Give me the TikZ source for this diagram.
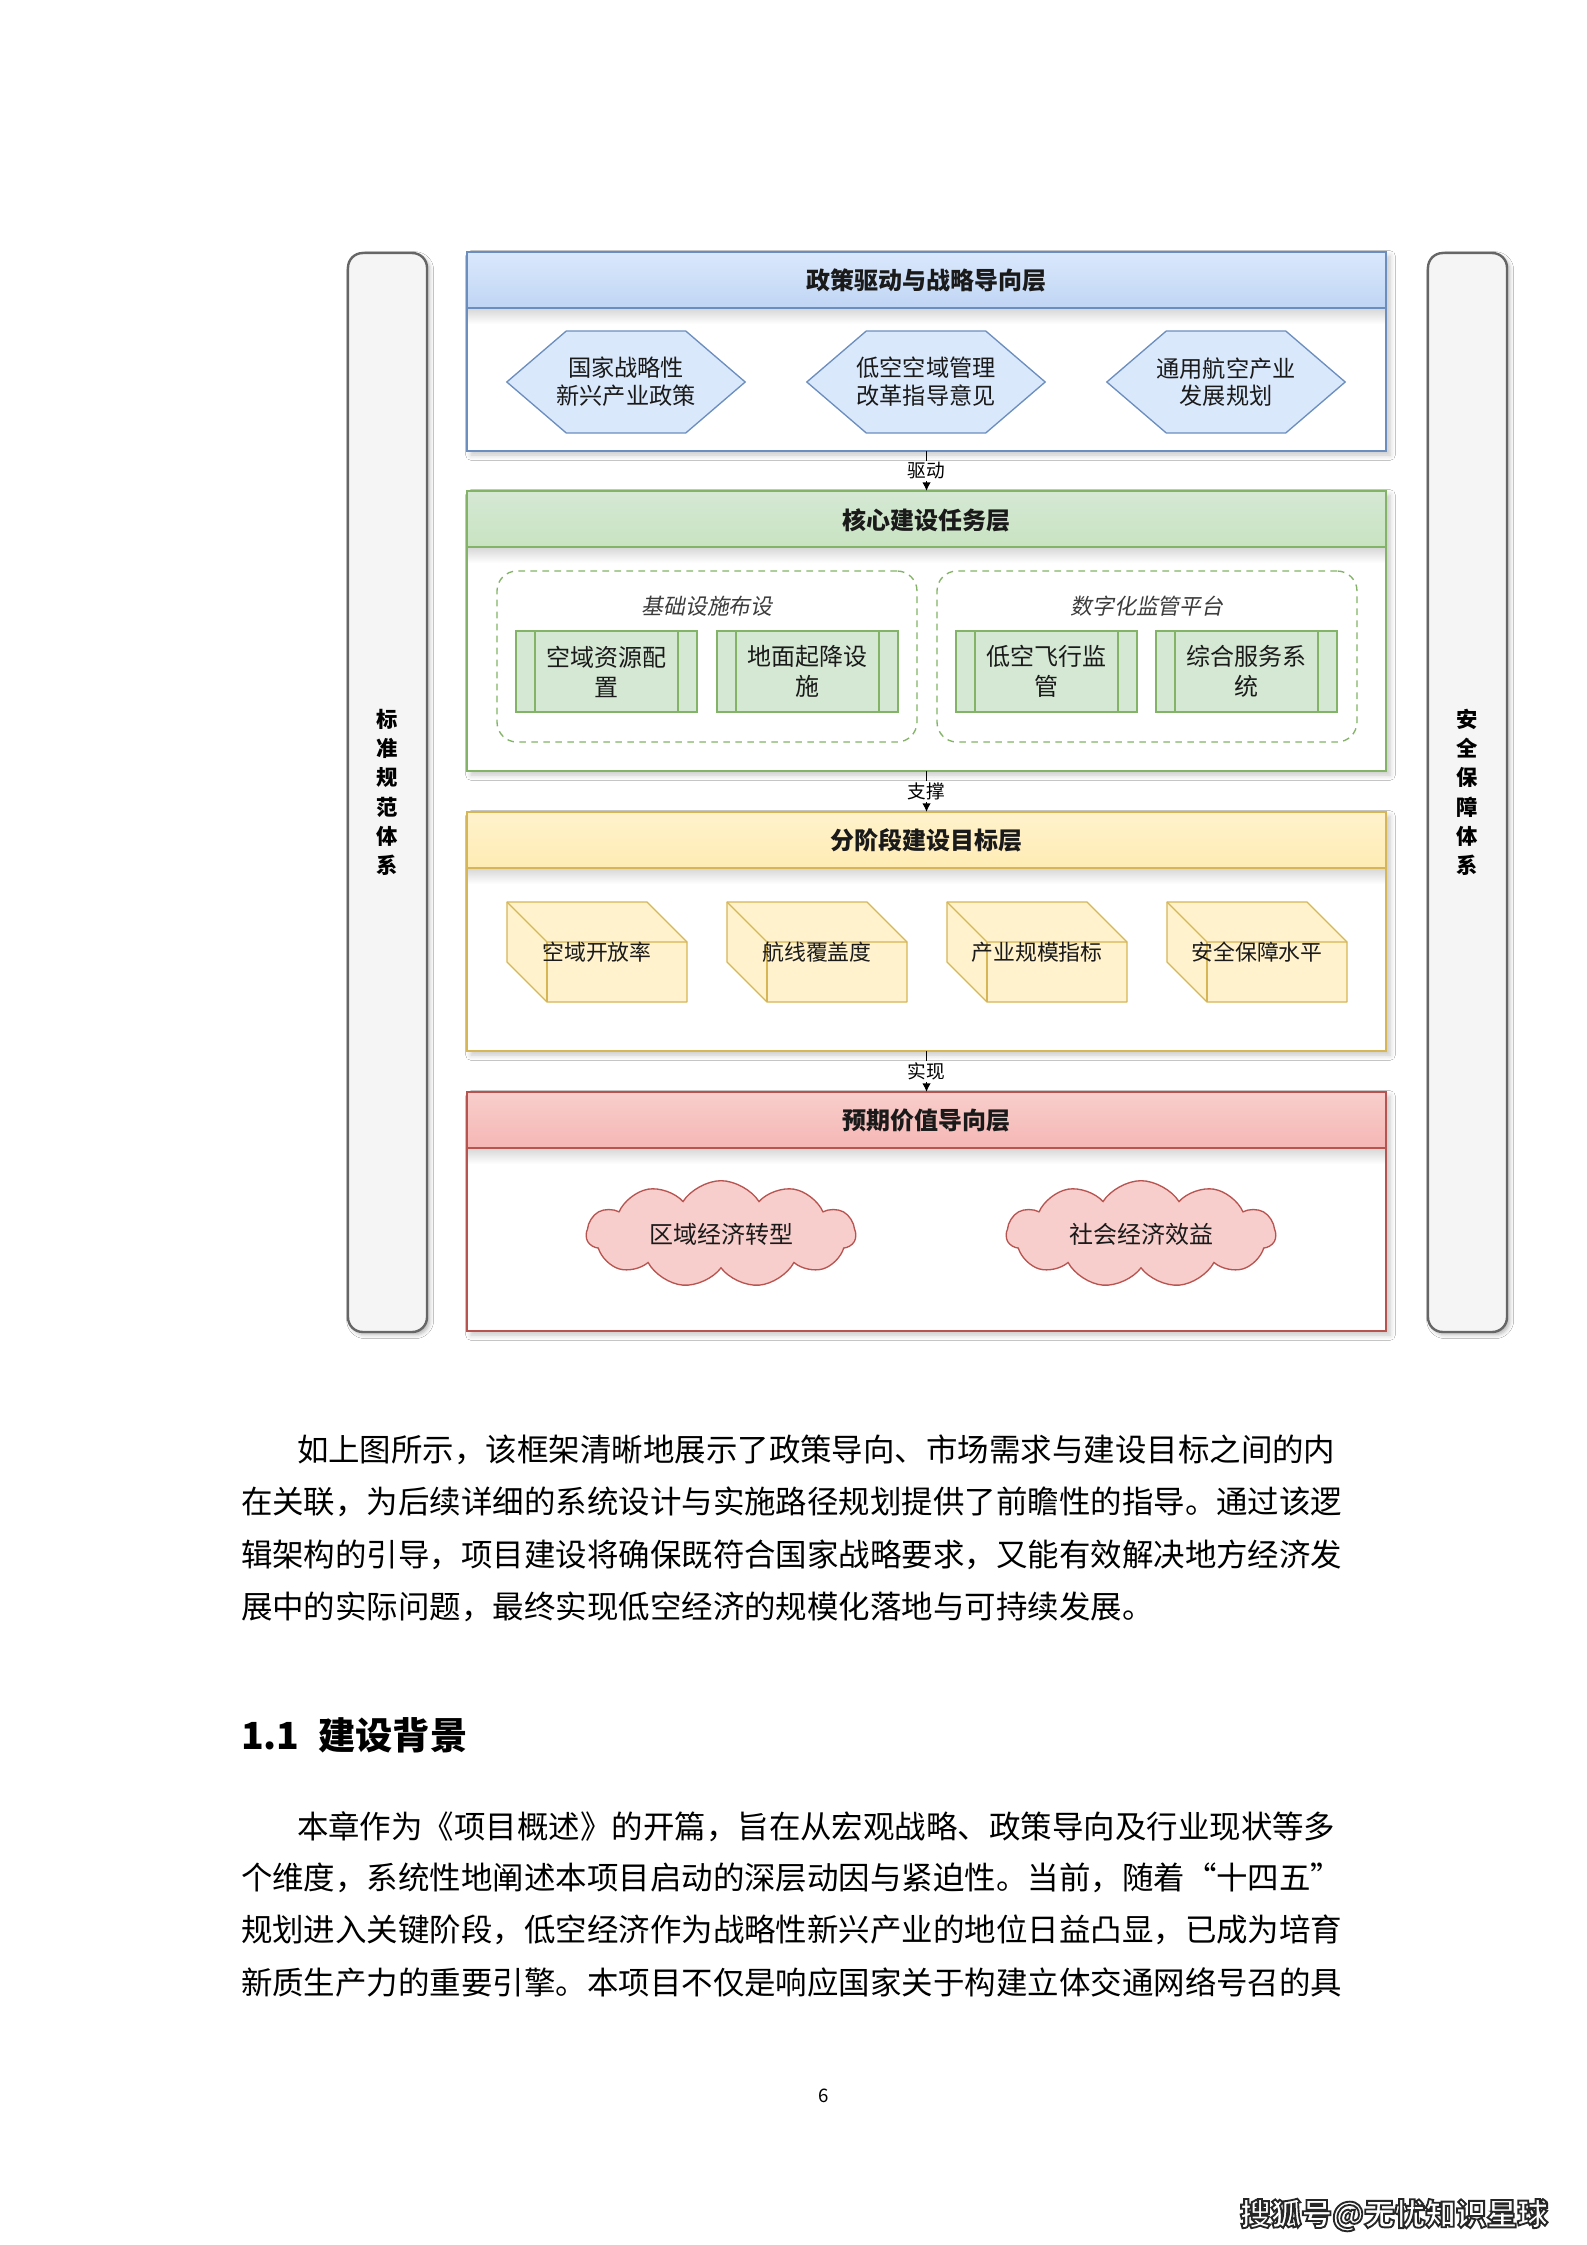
\documentclass[tikz,border=0pt]{standalone}
\usepackage{fontspec}
\setmainfont{Noto Sans CJK SC}
\newfontfamily\cjkit{Noto Sans CJK SC}[FakeSlant=0.2]
\usetikzlibrary{shapes.symbols,shadows.blur,fit,arrows.meta,calc}
\definecolor{blueA}{HTML}{DAE8FC}\definecolor{blueB}{HTML}{7EA6E0}\definecolor{blueS}{HTML}{6C8EBF}
\definecolor{greenA}{HTML}{D5E8D4}\definecolor{greenB}{HTML}{97D077}\definecolor{greenS}{HTML}{82B366}
\definecolor{yellowA}{HTML}{FFF2CC}\definecolor{yellowB}{HTML}{FFD966}\definecolor{yellowS}{HTML}{D6B656}
\definecolor{redA}{HTML}{F8CECC}\definecolor{redB}{HTML}{EA6B66}\definecolor{redS}{HTML}{B85450}
\definecolor{barF}{HTML}{F5F5F5}\definecolor{barS}{HTML}{666666}\definecolor{txt}{HTML}{1A1A1A}
\pgfdeclarelayer{back}\pgfdeclarelayer{mid}\pgfsetlayers{back,mid,main}
\begin{document}
\begin{tikzpicture}[x=0.375pt,y=-0.375pt,
  every node/.style={inner sep=0pt,outer sep=0pt},
  sidebar/.style={draw=barS,line width=0.9pt,fill=barF,rounded corners=5.5pt,
    minimum width=29.625pt,minimum height=404.6pt,
    blur shadow={shadow xshift=1pt,shadow yshift=-1pt,shadow opacity=30,shadow blur steps=4,shadow blur radius=1.5pt},
    align=center,font=\bfseries\fontsize{8}{11}\selectfont,text=black},
  layerbox/.style={draw=#1S,line width=0.6pt,fill=white,
    blur shadow={shadow xshift=1.5pt,shadow yshift=-1.5pt,shadow opacity=22,shadow blur steps=6,shadow blur radius=2pt},
    path picture={
      \shade[top color=#1A,bottom color=#1B] (path picture bounding box.north west) rectangle ([yshift=-21pt]path picture bounding box.north east);
      \shade[top color=black!16,bottom color=white] ([yshift=-21pt]path picture bounding box.north west) rectangle ([yshift=-27pt]path picture bounding box.north east);
      \draw[#1S,line width=0.6pt] ([yshift=-21pt]path picture bounding box.north west) -- ([yshift=-21pt]path picture bounding box.north east);}},
  ltitle/.style={font=\bfseries\fontsize{9}{11}\selectfont,text=txt},
  hexa/.style={minimum width=89.4pt,minimum height=38.25pt,align=center,font=\fontsize{8.7}{10.4}\selectfont,text=txt},
  hexline/.style={draw=blueS,fill=blueA,line width=0.5pt},
  grp/.style={draw=greenS,dash pattern=on 2.5pt off 2pt,rounded corners=7.5pt,line width=0.5pt},
  grplabel/.style={font=\cjkit\fontsize{8.2}{10}\selectfont,text=txt!85},
  procbox/.style={draw=greenS,fill=greenA,line width=0.6pt,align=center,font=\fontsize{9}{11.25}\selectfont,text=txt,
    minimum width=67.875pt,minimum height=30.375pt,
    path picture={
      \draw[greenS,line width=0.6pt] ([xshift=7.1pt]path picture bounding box.north west) -- ([xshift=7.1pt]path picture bounding box.south west);
      \draw[greenS,line width=0.6pt] ([xshift=-7.1pt]path picture bounding box.north east) -- ([xshift=-7.1pt]path picture bounding box.south east);}},
  cubetext/.style={font=\fontsize{8.2}{10}\selectfont,text=txt,minimum width=67.5pt,minimum height=37.5pt},
  cubeline/.style={draw=yellowS,fill=yellowA,line width=0.5pt,line join=round},
  cubeedge/.style={draw=yellowS,line width=0.5pt},
  cloudbox/.style={cloud,cloud puffs=11,cloud puff arc=115,aspect=2.6,draw=redS,fill=redA,line width=0.5pt,
    minimum width=101pt,minimum height=39.4pt,font=\fontsize{9}{11}\selectfont,text=txt},
  conn/.style={draw=black,line width=0.6pt,-{Latex[length=3.2pt,width=3.2pt]}},
  clabel/.style={fill=white,inner sep=0.6pt,font=\fontsize{7}{8}\selectfont,text=black},
  body/.style={anchor=base west,font=\fontsize{11.8}{14}\selectfont,text=black}
]
\begin{pgfonlayer}{back}
\path[use as bounding box,fill=white] (0,0) rectangle (1587,2245);
\node[sidebar] (SL) at (387.5,792.5) {标\\准\\规\\范\\体\\系};
\node[sidebar] (SR) at (1467.5,792.5) {安\\全\\保\\障\\体\\系};
\node[layerbox=blue,fit={(467,252) (1386,451)}] (L1) {};
\node[layerbox=green,fit={(467,491) (1386,771)}] (L2) {};
\node[layerbox=yellow,fit={(467,812) (1386,1051)}] (L3) {};
\node[layerbox=red,fit={(467,1092) (1386,1331)}] (L4) {};
\end{pgfonlayer}

% layer titles
\node[ltitle] (T1) at (926.5,280) {政策驱动与战略导向层};
\node[ltitle] (T2) at (926.5,520) {核心建设任务层};
\node[ltitle] (T3) at (926.5,840) {分阶段建设目标层};
\node[ltitle] (T4) at (926.5,1120) {预期价值导向层};

% hexagons
\node[hexa] (H1) at (626,382) {国家战略性\\新兴产业政策};
\node[hexa] (H2) at (926,382) {低空空域管理\\改革指导意见};
\node[hexa] (H3) at (1226,382) {通用航空产业\\发展规划};
\begin{pgfonlayer}{mid}
\foreach \h in {H1,H2,H3}
  \draw[hexline] (\h.west) -- ([xshift=22.3pt]\h.north west) -- ([xshift=-22.3pt]\h.north east)
    -- (\h.east) -- ([xshift=-22.3pt]\h.south east) -- ([xshift=22.3pt]\h.south west) -- cycle;
\end{pgfonlayer}

% groups
\node[grp,fit={(497,571) (917,742)}] (G1) {};
\node[grp,fit={(937,571) (1357,742)}] (G2) {};
\node[grplabel] (G1t) at (707,606) {基础设施布设};
\node[grplabel] (G2t) at (1147,606) {数字化监管平台};
\node[procbox] (P1) at (606.5,671.5) {空域资源配\\置};
\node[procbox] (P2) at (807.5,671.5) {地面起降设\\施};
\node[procbox] (P3) at (1046.5,671.5) {低空飞行监\\管};
\node[procbox] (P4) at (1246.5,671.5) {综合服务系\\统};

% cubes
\node[cubetext] (C1) at (597,952) {空域开放率};
\node[cubetext] (C2) at (817,952) {航线覆盖度};
\node[cubetext] (C3) at (1037,952) {产业规模指标};
\node[cubetext] (C4) at (1257,952) {安全保障水平};
\begin{pgfonlayer}{mid}
\foreach \c in {C1,C2,C3,C4}{
  \draw[cubeline] (\c.north west) -- ([xshift=-15pt]\c.north east) -- ([yshift=-15pt]\c.north east)
    -- (\c.south east) -- ([xshift=15pt]\c.south west) -- ([yshift=15pt]\c.south west) -- cycle;
  \draw[cubeedge] (\c.north west) -- ([xshift=15pt,yshift=-15pt]\c.north west) -- ([yshift=-15pt]\c.north east);
  \draw[cubeedge] ([xshift=15pt,yshift=-15pt]\c.north west) -- ([xshift=15pt]\c.south west);
}
\end{pgfonlayer}

% clouds
\node[cloudbox] (K1) at (721,1234) {区域经济转型};
\node[cloudbox] (K2) at (1141,1234) {社会经济效益};

% connectors
\draw[conn] (L1.south) -- node[clabel] (E1) {驱动} (L2.north);
\draw[conn] (L2.south) -- node[clabel] (E2) {支撑} (L3.north);
\draw[conn] (L3.south) -- node[clabel] (E3) {实现} (L4.north);

% body text
\node[body] (B1) at (297,1461) {如上图所示，该框架清晰地展示了政策导向、市场需求与建设目标之间的内};
\node[body] (B2) at (241,1513) {在关联，为后续详细的系统设计与实施路径规划提供了前瞻性的指导。通过该逻};
\node[body] (B3) at (241,1566) {辑架构的引导，项目建设将确保既符合国家战略要求，又能有效解决地方经济发};
\node[body] (B4) at (241,1618) {展中的实际问题，最终实现低空经济的规模化落地与可持续发展。};
\node[anchor=base west,font=\bfseries\fontsize{14}{16}\selectfont,text=black] (S1) at (241,1749) {1.1\hspace{7pt}建设背景};
\node[body] (B5) at (297,1838) {本章作为《项目概述》的开篇，旨在从宏观战略、政策导向及行业现状等多};
\node[body] (B6) at (241,1889) {个维度，系统性地阐述本项目启动的深层动因与紧迫性。当前，随着“十四五”};
\node[body] (B7) at (241,1941) {规划进入关键阶段，低空经济作为战略性新兴产业的地位日益凸显，已成为培育};
\node[body] (B8) at (241,1994) {新质生产力的重要引擎。本项目不仅是响应国家关于构建立体交通网络号召的具};
\node[font=\fontsize{7}{8}\selectfont,text=black] (PN) at (824,2096) {6};
\node[anchor=east,font=\bfseries\fontsize{11.5}{13}\selectfont,text=white] (WM) at (1548,2215)
  {\special{pdf:literal direct 2 Tr 0.7 w 0.15 0.15 0.15 RG}搜狐号@无忧知识星球\special{pdf:literal direct 0 Tr}};
\end{tikzpicture}
\end{document}
